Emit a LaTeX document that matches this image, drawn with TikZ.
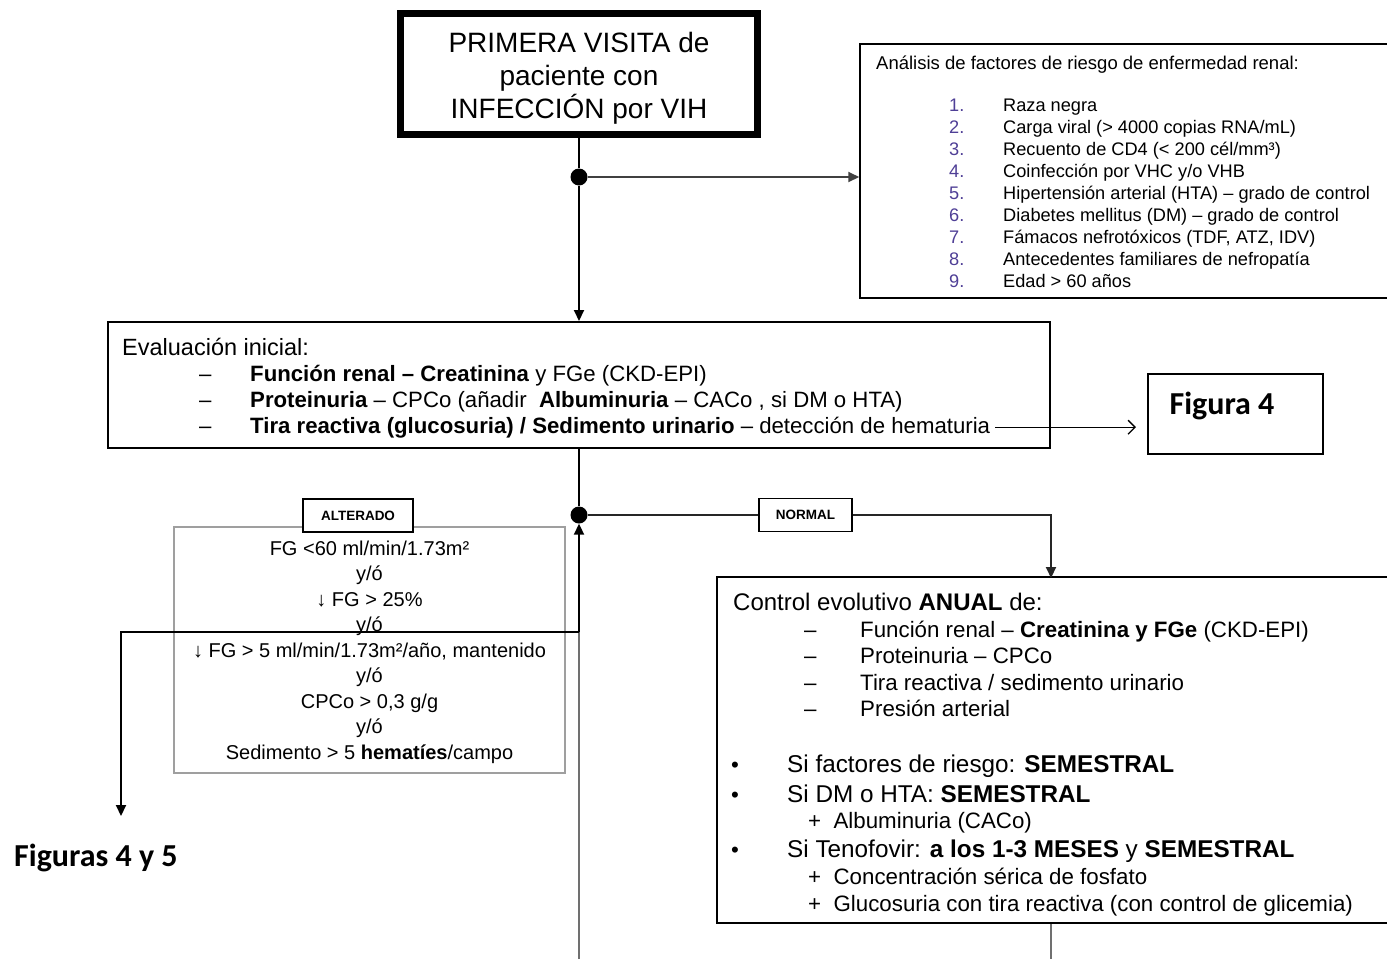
\documentclass[tikz,border=0pt]{standalone}
\usepackage{fontspec}
\setmainfont{Liberation Sans}
\newfontfamily\calib{Carlito}
\usetikzlibrary{arrows.meta}
\newcommand\fsz[1]{\fontsize{#1}{#1}\selectfont}
\definecolor{numc}{HTML}{4F3F96}
\definecolor{lgray}{HTML}{707070}
\begin{document}
\begin{tikzpicture}[x=1pt,y=-1pt,
  box/.style={draw, line width=2pt, inner sep=0, fill=white},
  lbl/.style={anchor=base west, inner sep=0},
  ctr/.style={anchor=base, inner sep=0},
  conn/.style={line width=2pt, draw=black},
  tip/.style={-{Triangle[length=11pt,width=10pt]}},
  dotn/.style={circle, fill=black, inner sep=0, minimum size=17pt},
  tagbox/.style={box, line width=1.5pt, font=\bfseries\fsz{13.5}},
  calfont/.style={font=\calib\bfseries\fsz{32}, inner sep=0}]
\useasboundingbox (0,0) rectangle (1387,959);
\clip (0,0) rectangle (1387,959);
\fill[white] (0,0) rectangle (1387,959);

% top box
\node[draw, line width=7pt, minimum width=357pt, minimum height=121pt, inner sep=0] (top) at (579,74) {};
\node[align=center, font=\fontsize{28}{33}\selectfont, inner sep=0] (topt) at (579,78)
  {PRIMERA VISITA de\\paciente con\\INFECCIÓN por VIH};

% risk box
\node[box, line width=1.5pt, minimum width=532pt, minimum height=254pt] (risk) at (1126,171) {};
\node[lbl, font=\fsz{18.5}] (rt) at (876,69) {Análisis de factores de riesgo de enfermedad renal:};
\begin{scope}[every node/.append style={lbl, font=\fsz{18.2}}]
\node[text=numc] (n1) at (949,111) {1.};  \node (r1) at (1003,111) {Raza negra};
\node[text=numc] (n2) at (949,133) {2.};  \node (r2) at (1003,133) {Carga viral (> 4000 copias RNA/mL)};
\node[text=numc] (n3) at (949,155) {3.};  \node (r3) at (1003,155) {Recuento de CD4 (< 200 cél/mm³)};
\node[text=numc] (n4) at (949,177) {4.};  \node (r4) at (1003,177) {Coinfección por VHC y/o VHB};
\node[text=numc] (n5) at (949,199) {5.};  \node (r5) at (1003,199) {Hipertensión arterial (HTA) – grado de control};
\node[text=numc] (n6) at (949,221) {6.};  \node (r6) at (1003,221) {Diabetes mellitus (DM) – grado de control};
\node[text=numc] (n7) at (949,243) {7.};  \node (r7) at (1003,243) {Fámacos nefrotóxicos (TDF, ATZ, IDV)};
\node[text=numc] (n8) at (949,265) {8.};  \node (r8) at (1003,265) {Antecedentes familiares de nefropatía};
\node[text=numc] (n9) at (949,287) {9.};  \node (r9) at (1003,287) {Edad > 60 años};
\end{scope}

% evaluation box
\node[box, minimum width=942pt, minimum height=126pt] (eval) at (579,385) {};
\node[lbl, font=\fsz{23.5}] (e0) at (122,355) {Evaluación inicial:};
\begin{scope}[every node/.append style={lbl, font=\fsz{22.2}}]
\node (ed1) at (199,381) {–}; \node (e1) at (250,381) {\textbf{Función renal – Creatinina} y FGe (CKD-EPI)};
\node (ed2) at (199,407) {–}; \node (e2) at (250,407) {\textbf{Proteinuria} – CPCo (añadir \ \textbf{Albuminuria} – CACo , si DM o HTA)};
\node (ed3) at (199,433) {–}; \node (e3) at (250,433) {\textbf{Tira reactiva (glucosuria) / Sedimento urinario} – detección de hematuria};
\end{scope}

% Figura 4
\node[box, minimum width=175pt, minimum height=80pt] (f4) at (1235.5,414) {};
\node[calfont] (f4t) at (1222,406) {Figura 4};
\coordinate (f4a) at (1136,428);

% dots
\node[dotn] (d1) at (579,177) {};
\node[dotn] (d2) at (579,515) {};

% ALTERADO box
\node[box, draw=gray!75, line width=1.5pt, minimum width=391pt, minimum height=246pt] (alt) at (369.5,650) {};
\node[tagbox, minimum width=110pt, minimum height=33pt] (altl) at (358,515.5) {ALTERADO};
\begin{scope}[every node/.append style={ctr, font=\fsz{20}}]
\node (a1) at (369.5,555) {FG <60 ml/min/1.73m²};
\node (a2) at (369.5,580.5) {y/ó};
\node (a3) at (369.5,606) {{\bfseries↓} FG > 25\%};
\node (a4) at (369.5,631.5) {y/ó};
\node (a5) at (369.5,657) {{\bfseries↓} FG > 5 ml/min/1.73m²/año, mantenido};
\node (a6) at (369.5,682.5) {y/ó};
\node (a7) at (369.5,708) {CPCo > 0,3 g/g};
\node (a8) at (369.5,733.5) {y/ó};
\node (a9) at (369.5,759) {Sedimento > 5 \textbf{hematíes}/campo};
\end{scope}

% NORMAL
\node[tagbox, minimum width=93pt, minimum height=33pt] (nrm) at (805.5,515) {NORMAL};

% control box
\node[box, minimum width=675pt, minimum height=346pt] (ctrl) at (1054.5,750) {};
\node[lbl, font=\fsz{24}] (c0) at (733,610) {Control evolutivo \textbf{ANUAL} de:};
\begin{scope}[every node/.append style={lbl, font=\fsz{22.3}}]
\node (cd1) at (804,637) {–}; \node (c1) at (860,637) {Función renal – \textbf{Creatinina y FGe} (CKD-EPI)};
\node (cd2) at (804,663) {–}; \node (c2) at (860,663) {Proteinuria – CPCo};
\node (cd3) at (804,690) {–}; \node (c3) at (860,690) {Tira reactiva / sedimento urinario};
\node (cd4) at (804,716) {–}; \node (c4) at (860,716) {Presión arterial};
\node (cb1) at (731,772) {•}; \node[font=\fsz{24.3}] (c5) at (787,772) {Si factores de riesgo: \textbf{SEMESTRAL}};
\node (cb2) at (731,802) {•}; \node[font=\fsz{24.3}] (c6) at (787,802) {Si DM o HTA: \textbf{SEMESTRAL}};
\node (c7) at (808,828) {+\ \ Albuminuria (CACo)};
\node (cb3) at (731,857) {•}; \node[font=\fsz{24.3}] (c8) at (787,857) {Si Tenofovir: \textbf{a los 1-3 MESES} y \textbf{SEMESTRAL}};
\node (c9) at (808,884) {+\ \ Concentración sérica de fosfato};
\node (c10) at (808,911) {+\ \ Glucosuria con tira reactiva (con control de glicemia)};
\end{scope}

% Figuras 4 y 5
\node[calfont, anchor=base west] (f45) at (14,866) {Figuras 4 y 5};

% coordinates
\coordinate (j1) at (579,632);
\coordinate (b1) at (579,959);
\coordinate (f45a) at (121,816);
\coordinate (cin) at (1051,578);
\coordinate (b2) at (1051,959);

% connectors
\draw[conn] (top.south) -- (d1);
\draw[conn, draw=black!75, tip] (d1) -- (d1 -| risk.west);
\draw[conn, tip] (d1) -- (eval.north);
\draw[line width=1.3pt, -{Straight Barb[length=7pt,width=14pt]}, shorten <=5pt] (e3.east) -- (e3.east -| f4a);
\draw[conn] (eval.south) -- (d2);
\draw[conn, draw=black!85] (d2) -- (nrm.west);
\draw[conn, draw=black!85, tip] (nrm.east) -| (cin);
\draw[conn, draw=lgray] (b1) -- (j1);
\draw[conn, tip] (j1) -- (d2.south);
\draw[conn, tip] (j1) -| (f45a);
\draw[conn, draw=lgray] (ctrl.south -| b2) -- (b2);
\end{tikzpicture}
\end{document}
